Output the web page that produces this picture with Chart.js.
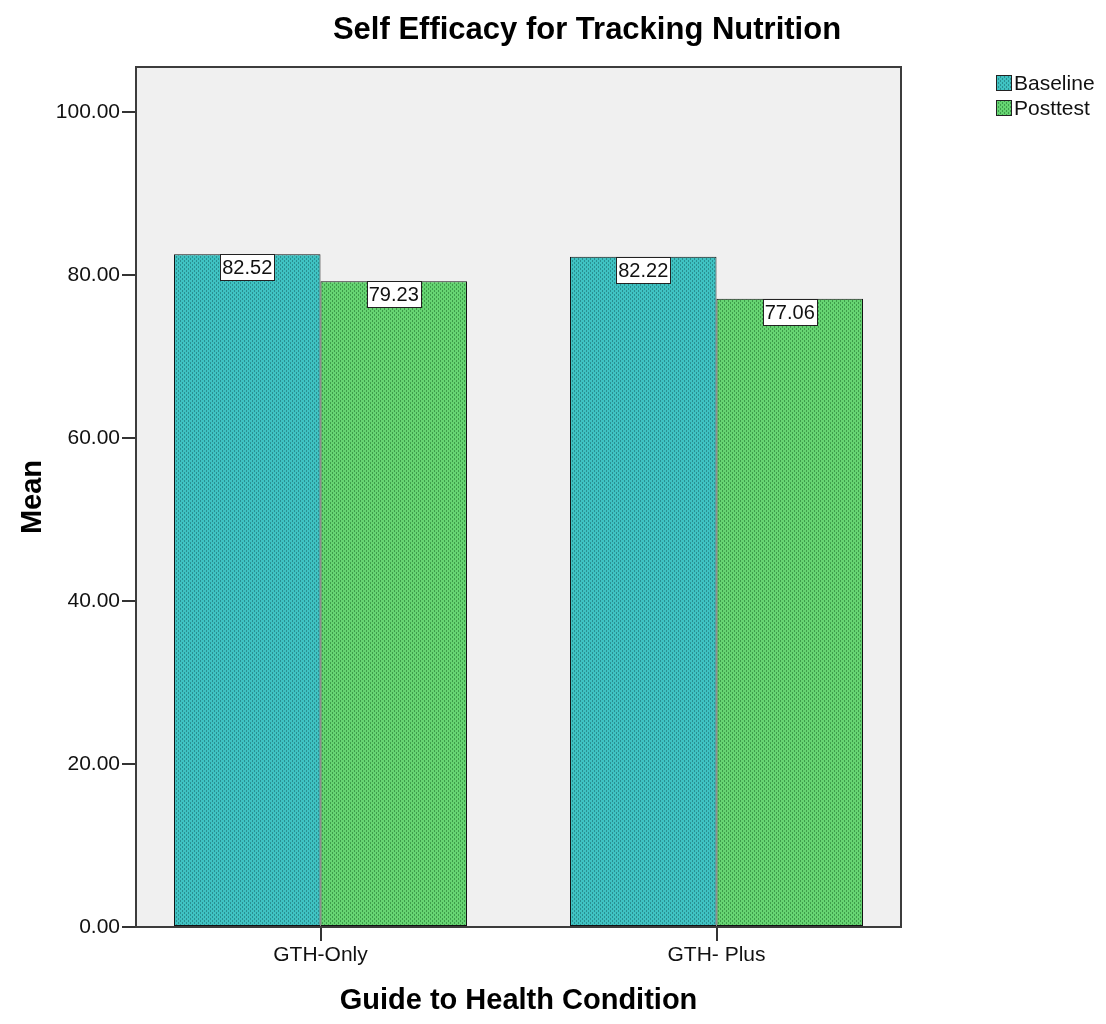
<!DOCTYPE html>
<html>
<head>
<meta charset="utf-8">
<title>Self Efficacy for Tracking Nutrition</title>
<script src="https://cdn.jsdelivr.net/npm/chart.js@4.4.1/dist/chart.umd.min.js"></script>
<style>
  html, body { margin: 0; padding: 0; background: #ffffff; }
  #wrap { width: 1106px; height: 1024px; }
</style>
</head>
<body>
<div id="wrap"><canvas id="chart" width="1106" height="1024"></canvas></div>
<script>
// data
const categories = ['GTH-Only', 'GTH- Plus'];
const seriesNames = ['Baseline', 'Posttest'];
const baselineValues = [82.52, 82.22];
const posttestValues = [79.23, 77.06];
const yTickValues = [0, 20, 40, 60, 80, 100];

const FONT = '"Liberation Sans", Arial, sans-serif';

// SPSS-style dotted fill
function makePattern(base, dot) {
    const c = document.createElement('canvas');
    c.width = 4; c.height = 4;
    const g = c.getContext('2d');
    g.fillStyle = base;
    g.fillRect(0, 0, 4, 4);
    g.fillStyle = dot;
    g.fillRect(0, 0, 1, 2);
    g.fillRect(2, 2, 1, 2);
    return document.getElementById('chart').getContext('2d').createPattern(c, 'repeat');
}
const baselineFill = makePattern('#3fc2c2', '#2a8f91');
const posttestFill = makePattern('#66d472', '#3e9c4a');

// the groups sit a bit wider apart than the frame would give, so stretch the x scale
const xSpread = {
    id: 'xSpread',
    afterLayout(chart) {
        const s = chart.scales.x;
        s.left = 122.5;
        s.right = 914.5;
        s.width = s.right - s.left;
        s.configure();
    }
};

// grey plot background + frame
const plotFrame = {
    id: 'plotFrame',
    beforeDatasetsDraw(chart) {
        const a = chart.chartArea, ctx = chart.ctx;
        ctx.save();
        ctx.fillStyle = '#f0f0f0';
        ctx.fillRect(a.left, a.top, a.right - a.left, a.bottom - a.top);
        ctx.restore();
    },
    afterDatasetsDraw(chart) {
        const a = chart.chartArea, ctx = chart.ctx;
        ctx.save();
        ctx.strokeStyle = '#3c3c3c';
        ctx.lineWidth = 2;
        ctx.strokeRect(a.left, a.top, a.right - a.left, a.bottom - a.top);
        ctx.restore();
    }
};

// white value boxes at the top of each bar
const valueBoxes = {
    id: 'valueBoxes',
    afterDraw(chart) {
        const ctx = chart.ctx;
        ctx.save();
        ctx.font = '20px ' + FONT;
        ctx.textAlign = 'center';
        ctx.textBaseline = 'middle';
        chart.data.datasets.forEach((ds, i) => {
            chart.getDatasetMeta(i).data.forEach((bar, j) => {
                const txt = ds.data[j].toFixed(2);
                const w = 54, h = 26;
                const x = Math.round(bar.x - w / 2) + 0.5, y = Math.round(bar.y) + 0.5;
                ctx.fillStyle = '#ffffff';
                ctx.fillRect(x, y, w, h);
                ctx.strokeStyle = '#222222';
                ctx.lineWidth = 1;
                ctx.strokeRect(x, y, w, h);
                ctx.fillStyle = '#111111';
                ctx.fillText(txt, bar.x, y + h / 2 + 1);
            });
        });
        ctx.restore();
    }
};

// title, axis titles and legend
const decorations = {
    id: 'decorations',
    afterDraw(chart) {
        const ctx = chart.ctx;
        const a = chart.chartArea;
        ctx.save();
        ctx.fillStyle = '#000000';
        ctx.textAlign = 'center';
        ctx.textBaseline = 'alphabetic';
        ctx.font = 'bold 31px ' + FONT;
        ctx.fillText('Self Efficacy for Tracking Nutrition', 587, 39);

        ctx.textBaseline = 'middle';
        ctx.font = 'bold 29px ' + FONT;
        ctx.fillText('Guide to Health Condition', (a.left + a.right) / 2, 1001);

        ctx.save();
        ctx.translate(33, 497);
        ctx.rotate(-Math.PI / 2);
        ctx.fillText('Mean', 0, 0);
        ctx.restore();

        ctx.font = '21px ' + FONT;
        ctx.textAlign = 'left';
        const fills = [baselineFill, posttestFill];
        seriesNames.forEach((name, i) => {
            const cy = 83 + i * 25;
            ctx.fillStyle = fills[i];
            ctx.fillRect(996, cy - 8, 16, 16);
            ctx.strokeStyle = '#222222';
            ctx.lineWidth = 1;
            ctx.strokeRect(996.5, cy - 7.5, 15, 15);
            ctx.fillStyle = '#111111';
            ctx.fillText(name, 1014, cy + 1);
        });
        ctx.restore();
    }
};

new Chart(document.getElementById('chart'), {
    type: 'bar',
    data: {
        labels: categories,
        datasets: [
            {
                label: seriesNames[0],
                data: baselineValues,
                backgroundColor: baselineFill,
                borderColor: '#111111',
                borderWidth: 1,
                borderSkipped: false
            },
            {
                label: seriesNames[1],
                data: posttestValues,
                backgroundColor: posttestFill,
                borderColor: '#111111',
                borderWidth: 1,
                borderSkipped: false
            }
        ]
    },
    options: {
        responsive: false,
        animation: false,
        devicePixelRatio: 1,
        layout: { padding: { top: 67, right: 205, left: 0, bottom: 0 } },
        datasets: { bar: { categoryPercentage: 0.74, barPercentage: 1.0 } },
        plugins: {
            legend: { display: false },
            title: { display: false },
            tooltip: { enabled: false }
        },
        scales: {
            x: {
                border: { display: false },
                grid: {
                    offset: false,
                    drawOnChartArea: false,
                    drawTicks: true,
                    tickLength: 14,
                    color: '#333333',
                    lineWidth: 2
                },
                ticks: {
                    color: '#111111',
                    font: { family: FONT, size: 21 },
                    padding: 2
                },
                afterFit(scale) { scale.height = 97; }
            },
            y: {
                min: 0,
                max: 105.5,
                border: { display: false },
                grid: {
                    drawOnChartArea: false,
                    drawTicks: true,
                    tickLength: 14,
                    color: '#333333',
                    lineWidth: 2
                },
                ticks: {
                    color: '#111111',
                    font: { family: FONT, size: 21 },
                    padding: 2,
                    callback: v => Number(v).toFixed(2)
                },
                afterBuildTicks(scale) {
                    scale.ticks = yTickValues.map(v => ({ value: v }));
                },
                afterFit(scale) { scale.width = 136; }
            }
        }
    },
    plugins: [xSpread, plotFrame, valueBoxes, decorations]
});
</script>
</body>
</html>
